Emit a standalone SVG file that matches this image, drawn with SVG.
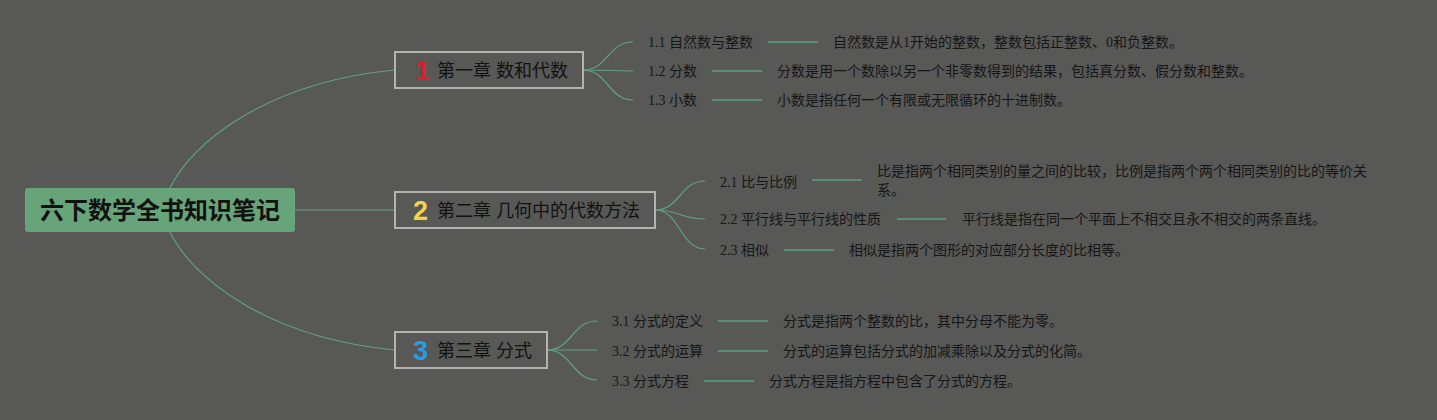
<svg xmlns="http://www.w3.org/2000/svg" width="1437" height="420" viewBox="0 0 1437 420">
<style>
.bg{fill:#585856}
.conn{fill:none;stroke:#62a088;stroke-width:1.2}
.dl{fill:none;stroke:#5e8c7c;stroke-width:2}
.chap{fill:#585856;stroke:#b3b3b1;stroke-width:2}
.root{fill:#68a47a}
.rt{font-family:"Liberation Sans","Noto Sans CJK SC",sans-serif;font-size:24px;font-weight:bold;fill:#111}
.ct{font-family:"Liberation Sans","Noto Sans CJK SC",sans-serif;font-size:18px;fill:#121212}
.num{font-family:"Liberation Sans","DejaVu Sans",sans-serif;font-size:27px;font-weight:bold}
.t{font-family:"Liberation Serif","Noto Sans CJK SC",serif;font-size:14px;fill:#161616}
</style>
<rect class="bg" x="0" y="0" width="1437" height="420"/>
<g id="connectors">
<path class="conn" d="M170,188 C192,142 268,82 395,70"/>
<path class="conn" d="M295,210 L395,210"/>
<path class="conn" d="M170,232 C192,278 268,338 395,350"/>
<path class="conn" d="M583,70 C608,70 608,42 633,42"/>
<path class="conn" d="M583,70 L633,71"/>
<path class="conn" d="M583,70 C608,70 608,100 633,100"/>
<path class="conn" d="M655,210 C680,210 680,181 705,181"/>
<path class="conn" d="M655,210 C680,210 680,219 705,219"/>
<path class="conn" d="M655,210 C680,210 680,249 705,249"/>
<path class="conn" d="M547,350 C572,350 572,321 597,321"/>
<path class="conn" d="M547,350 L597,350"/>
<path class="conn" d="M547,350 C572,350 572,380 597,380"/>
<path class="dl" d="M768,42 H818 M712,71 H762 M712,100 H762 M812,180 H862 M897,219 H946 M784,250 H834 M718,321 H768 M718,351 H768 M704,381 H754"/>
</g>
<g id="root">
<rect class="root" x="25" y="188" width="270" height="44" rx="3"/>
<text class="rt" x="160" y="219" text-anchor="middle">六下数学全书知识笔记</text>
</g>
<g id="ch1">
<rect class="chap" x="395" y="52" width="188" height="36"/>
<text class="num" x="415" y="80" fill="#d8202f">1</text>
<text class="ct" x="437" y="77">第一章 数和代数</text>
</g>
<g id="ch2">
<rect class="chap" x="395" y="192" width="260" height="36"/>
<text class="num" x="413" y="220" fill="#f2d448">2</text>
<text class="ct" x="437" y="217">第二章 几何中的代数方法</text>
</g>
<g id="ch3">
<rect class="chap" x="395" y="332" width="152" height="36"/>
<text class="num" x="413" y="360" fill="#2a9ce0">3</text>
<text class="ct" x="437" y="357">第三章 分式</text>
</g>
<g id="n11"><text class="t" x="648" y="47">1.1 自然数与整数</text></g>
<g id="d11"><text class="t" x="833" y="47">自然数是从1开始的整数，整数包括正整数、0和负整数。</text></g>
<g id="n12"><text class="t" x="648" y="76">1.2 分数</text></g>
<g id="d12"><text class="t" x="777" y="76">分数是用一个数除以另一个非零数得到的结果，包括真分数、假分数和整数。</text></g>
<g id="n13"><text class="t" x="648" y="105">1.3 小数</text></g>
<g id="d13"><text class="t" x="777" y="105">小数是指任何一个有限或无限循环的十进制数。</text></g>
<g id="n21"><text class="t" x="720" y="187">2.1 比与比例</text></g>
<g id="d21"><text class="t" x="877" y="176">比是指两个相同类别的量之间的比较，比例是指两个两个相同类别的比的等价关</text><text class="t" x="877" y="195">系。</text></g>
<g id="n22"><text class="t" x="720" y="224">2.2 平行线与平行线的性质</text></g>
<g id="d22"><text class="t" x="962" y="224">平行线是指在同一个平面上不相交且永不相交的两条直线。</text></g>
<g id="n23"><text class="t" x="720" y="255">2.3 相似</text></g>
<g id="d23"><text class="t" x="849" y="255">相似是指两个图形的对应部分长度的比相等。</text></g>
<g id="n31"><text class="t" x="612" y="326">3.1 分式的定义</text></g>
<g id="d31"><text class="t" x="783" y="326">分式是指两个整数的比，其中分母不能为零。</text></g>
<g id="n32"><text class="t" x="612" y="356">3.2 分式的运算</text></g>
<g id="d32"><text class="t" x="783" y="356">分式的运算包括分式的加减乘除以及分式的化简。</text></g>
<g id="n33"><text class="t" x="612" y="386">3.3 分式方程</text></g>
<g id="d33"><text class="t" x="769" y="386">分式方程是指方程中包含了分式的方程。</text></g>
</svg>
